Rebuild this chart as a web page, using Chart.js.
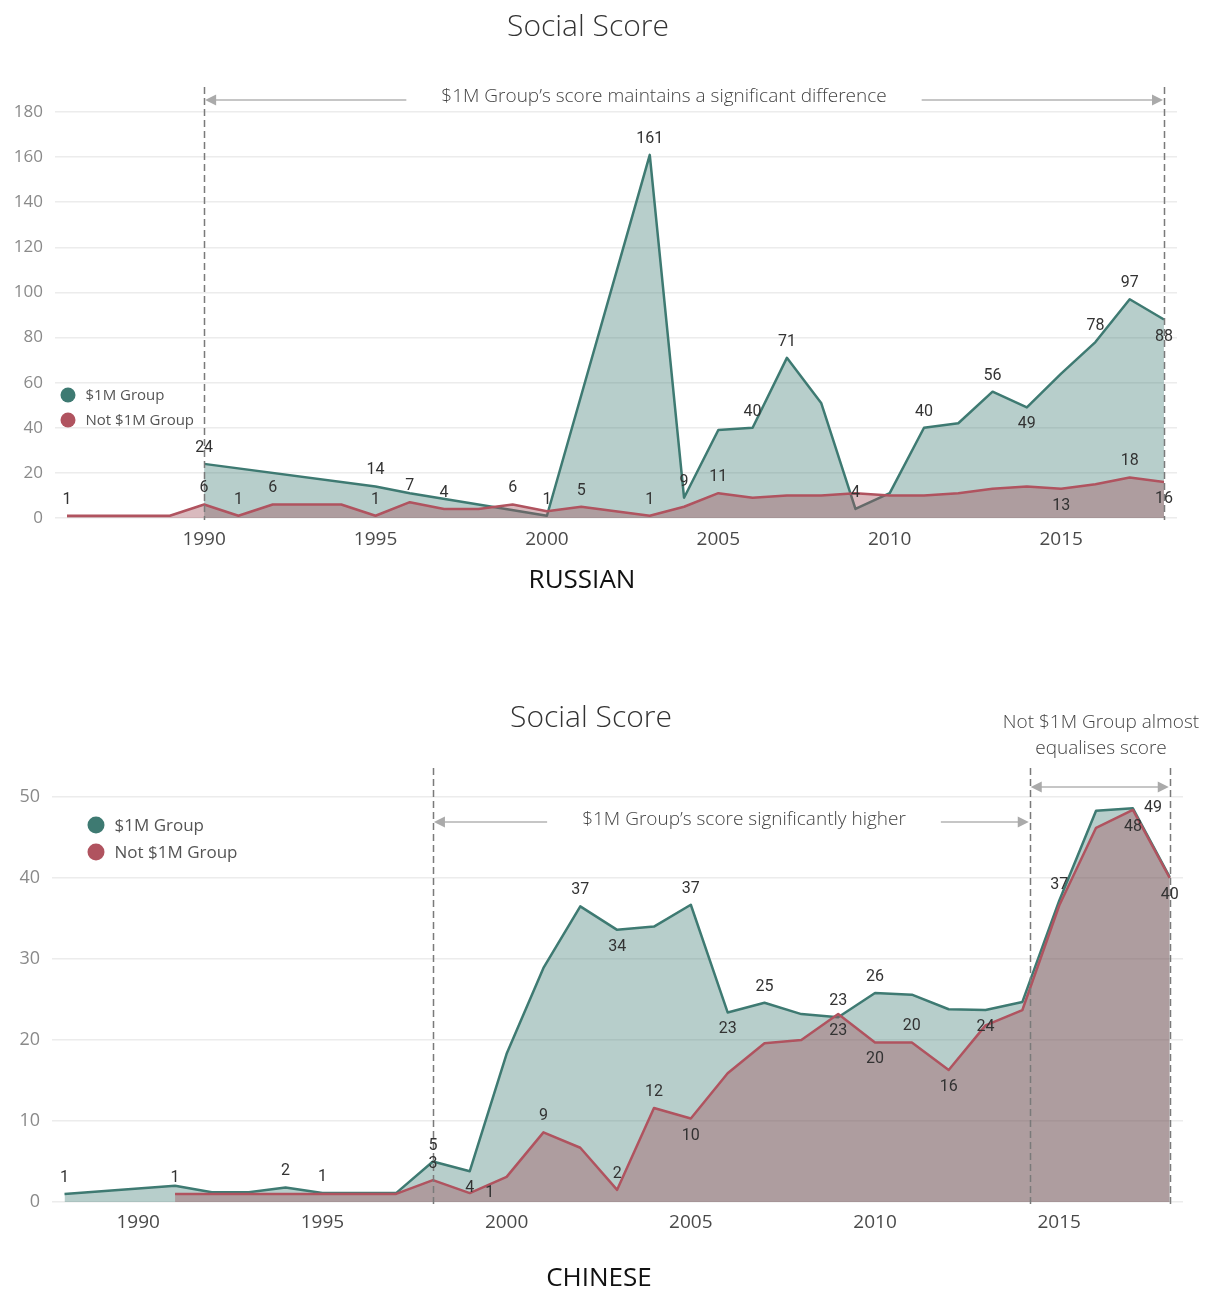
<!DOCTYPE html>
<html>
<head>
<meta charset="utf-8">
<title>Social Score</title>
<script src="https://cdn.jsdelivr.net/npm/chart.js@4/dist/chart.umd.min.js"></script>
<style>
  html, body { margin: 0; padding: 0; background: #fff; }
  #page { position: relative; width: 1208px; height: 1293px; overflow: hidden; }
  .panel { position: absolute; left: 0; width: 1208px; }
  #ruPanel { top: 0; height: 600px; }
  #cnPanel { top: 640px; height: 653px; }
</style>
</head>
<body>
<div id="page">
  <div class="panel" id="ruPanel"><canvas id="ruChart"></canvas></div>
  <div class="panel" id="cnPanel"><canvas id="cnChart"></canvas></div>
</div>
<script>
// ---- Russian-language cohort: yearly social score ----
const ruYears = [1986, 1987, 1988, 1989, 1990, 1991, 1992, 1993, 1994, 1995, 1996,
                 1997, 1998, 1999, 2000, 2001, 2002, 2003, 2004, 2005, 2006, 2007,
                 2008, 2009, 2010, 2011, 2012, 2013, 2014, 2015, 2016, 2017, 2018];
const ruMillion = [null, null, null, null, 24, null, null, null, null, 14, 11,
                   null, null, null, 1, null, null, 161, 9, 39, 40, 71,
                   51, 4, 11, 40, 42, 56, 49, 64, 78, 97, 88];
const ruNotMillion = [1, null, null, 1, 6, 1, 6, 6, 6, 1, 7,
                      4, 4, 6, 3, 5, 3, 1, 5, 11, 9, 10,
                      10, 11, 10, 10, 11, 13, 14, 13, 15, 18, 16];

// ---- Chinese-language cohort: yearly social score ----
const cnYears = [1988, 1989, 1990, 1991, 1992, 1993, 1994, 1995, 1996, 1997, 1998,
                 1999, 2000, 2001, 2002, 2003, 2004, 2005, 2006, 2007, 2008, 2009,
                 2010, 2011, 2012, 2013, 2014, 2015, 2016, 2017, 2018];
const cnMillion = [1, null, null, 2, 1.2, 1.2, 1.8, 1.1, 1.1, 1.1, 5,
                   3.8, 18.3, 28.9, 36.5, 33.6, 34, 36.7, 23.4, 24.6, 23.2, 22.8,
                   25.8, 25.6, 23.8, 23.7, 24.7, 37.2, 48.3, 48.6, 40.1];
const cnNotMillion = [null, null, null, 1, 1, 1, 1, 1, 1, 1, 2.7,
                      1.1, 3.1, 8.6, 6.7, 1.5, 11.6, 10.3, 15.9, 19.6, 20.0, 23.2,
                      19.7, 19.7, 16.3, 21.8, 23.7, 36.6, 46.2, 48.4, 40.0];

// Axis tick labels
const yearTicks = [1990, 1995, 2000, 2005, 2010, 2015];
const ruScoreTicks = [0, 20, 40, 60, 80, 100, 120, 140, 160, 180];
const cnScoreTicks = [0, 10, 20, 30, 40, 50];

// Series names
const seriesNames = ['$1M Group', 'Not $1M Group'];

// Which points carry a value label, and where it sits (a = above, b = below, r = right)
const ruMillionLabels = {1990:'a', 1995:'a', 2000:'a', 2003:'a', 2004:'a', 2006:'a', 2007:'a',
                         2009:'a', 2011:'a', 2013:'a', 2014:'b', 2016:'a', 2017:'a', 2018:'b'};
const ruNotLabels = {1986:'a', 1990:'a', 1991:'a', 1992:'a', 1995:'a', 1996:'a', 1997:'a',
                     1999:'a', 2001:'a', 2003:'a', 2005:'a', 2015:'b', 2017:'a', 2018:'b'};
const cnMillionLabels = {1988:'a', 1994:'a', 1995:'a', 1998:'a', 1999:'b', 2002:'a', 2003:'b',
                         2005:'a', 2006:'b', 2007:'a', 2009:'a', 2010:'a', 2013:'b', 2015:'a', 2017:'r'};
const cnNotLabels = {1991:'a', 1998:'a', 1999:'r', 2001:'a', 2003:'a', 2004:'a', 2005:'b',
                     2009:'b', 2010:'b', 2011:'a', 2012:'b', 2017:'b', 2018:'b'};

const TEAL = '#3e7a72';
const TEAL_FILL = 'rgba(61,122,114,0.37)';
const RED = '#b0535f';
const RED_FILL = 'rgba(160,82,92,0.40)';
const UI_FONT = '"Open Sans", "Noto Sans", sans-serif';
const NUM_FONT = 'Roboto, "DejaVu Sans", sans-serif';

function toPoints(years, values) {
  return years.map((yr, i) => ({ x: yr, y: values[i] }));
}

function drawArrowHead(ctx, x, y, dir) {
  ctx.beginPath();
  ctx.moveTo(x, y);
  ctx.lineTo(x - dir * 11, y - 5.5);
  ctx.lineTo(x - dir * 11, y + 5.5);
  ctx.closePath();
  ctx.fill();
}

// Titles, captions, legend, reference lines, notes and value labels
function decorations(cfg) {
  return {
    id: 'decorations',
    afterDraw(chart) {
      const ctx = chart.ctx;
      const xs = chart.scales.x;
      ctx.save();

      // Chart title
      ctx.fillStyle = '#333';
      ctx.font = '300 30px ' + UI_FONT;
      ctx.textAlign = 'center';
      ctx.textBaseline = 'middle';
      ctx.fillText(cfg.title, cfg.titleX, cfg.titleY);

      // Caption under the axis
      ctx.fillStyle = '#111';
      ctx.font = '400 26px ' + UI_FONT;
      ctx.fillText(cfg.caption, cfg.captionX, cfg.captionY);

      // Dashed reference lines
      ctx.strokeStyle = '#7a7a7a';
      ctx.lineWidth = 1.5;
      ctx.setLineDash([7, 4]);
      cfg.markers.forEach(v => {
        const px = Math.round(xs.getPixelForValue(v)) + 0.5;
        ctx.beginPath();
        ctx.moveTo(px, cfg.markTop);
        ctx.lineTo(px, cfg.markBottom);
        ctx.stroke();
      });
      ctx.setLineDash([]);

      // Notes with arrows
      cfg.notes.forEach(n => {
        const x0 = xs.getPixelForValue(n.from);
        const x1 = xs.getPixelForValue(n.to);
        ctx.font = '300 ' + n.size + 'px ' + UI_FONT;
        ctx.fillStyle = '#444';
        ctx.textAlign = 'center';
        ctx.textBaseline = 'middle';
        n.lines.forEach((t, k) => ctx.fillText(t, n.cx, n.cy + k * n.lineGap));
        ctx.strokeStyle = '#c6c6c6';
        ctx.lineWidth = 2;
        if (n.split) {
          const w = ctx.measureText(n.lines[0]).width;
          ctx.beginPath();
          ctx.moveTo(x0 + 4, n.ay); ctx.lineTo(n.cx - w / 2 - n.gap, n.ay);
          ctx.moveTo(n.cx + w / 2 + n.gap, n.ay); ctx.lineTo(x1 - 4, n.ay);
          ctx.stroke();
        } else {
          ctx.beginPath();
          ctx.moveTo(x0 + 4, n.ay); ctx.lineTo(x1 - 4, n.ay);
          ctx.stroke();
        }
        ctx.fillStyle = '#aaa';
        drawArrowHead(ctx, x0 + 1, n.ay, -1);
        drawArrowHead(ctx, x1 - 1, n.ay, 1);
      });

      // Legend
      ctx.textAlign = 'left';
      ctx.textBaseline = 'middle';
      ctx.font = '400 ' + cfg.legend.size + 'px ' + UI_FONT;
      chart.data.datasets.forEach((ds, i) => {
        const y = cfg.legend.y + i * cfg.legend.dy;
        ctx.fillStyle = ds.borderColor;
        ctx.beginPath();
        ctx.arc(cfg.legend.x, y, cfg.legend.r, 0, Math.PI * 2);
        ctx.fill();
        ctx.fillStyle = '#555';
        ctx.fillText(ds.label, cfg.legend.x + cfg.legend.r + 10, y + 1);
      });

      // Value labels
      ctx.font = '400 16px ' + NUM_FONT;
      ctx.fillStyle = '#333';
      ctx.textAlign = 'center';
      ctx.textBaseline = 'middle';
      chart.data.datasets.forEach((ds, i) => {
        const meta = chart.getDatasetMeta(i);
        ds.data.forEach((p, j) => {
          const where = ds.valueLabels[p.x];
          if (!where || p.y === null) return;
          const el = meta.data[j];
          let lx = el.x, ly = el.y;
          if (where === 'a') ly -= 16;
          else if (where === 'b') ly += 17;
          else lx += 20;
          ctx.fillText(String(Math.round(p.y)), lx, ly);
        });
      });

      ctx.restore();
    }
  };
}

function buildChart(id, cfg) {
  const datasets = [
    { label: seriesNames[0], data: toPoints(cfg.years, cfg.million), valueLabels: cfg.millionLabels,
      borderColor: TEAL, backgroundColor: TEAL_FILL, order: 2 },
    { label: seriesNames[1], data: toPoints(cfg.years, cfg.notMillion), valueLabels: cfg.notLabels,
      borderColor: RED, backgroundColor: RED_FILL, order: 1 }
  ].map(d => Object.assign(d, {
    fill: 'origin', borderWidth: 2.5, pointRadius: 0, pointHoverRadius: 0,
    tension: 0, spanGaps: true, borderJoinStyle: 'round'
  }));

  return new Chart(document.getElementById(id), {
    type: 'line',
    data: { datasets },
    options: {
      responsive: true,
      maintainAspectRatio: false,
      animation: false,
      devicePixelRatio: 1,
      layout: { padding: cfg.padding },
      plugins: { legend: { display: false }, tooltip: { enabled: false }, title: { display: false } },
      scales: {
        x: {
          type: 'linear',
          min: cfg.xMin, max: cfg.xMax,
          grid: { display: false },
          border: { display: false },
          ticks: { font: { family: UI_FONT, size: 19 }, color: '#4a4a4a', padding: cfg.xPad,
                   maxRotation: 0, callback: v => String(v) },
          afterBuildTicks: s => { s.ticks = yearTicks.map(v => ({ value: v })); },
          afterFit: s => { s.height = cfg.xHeight; }
        },
        y: {
          min: 0, max: cfg.yTicks[cfg.yTicks.length - 1],
          grid: { color: '#ececec', lineWidth: 1.5, drawTicks: false },
          border: { display: false },
          ticks: { font: { family: UI_FONT, size: cfg.yFont }, color: '#8a8a8a', padding: 12,
                   callback: v => String(v) },
          afterBuildTicks: s => { s.ticks = cfg.yTicks.map(v => ({ value: v })); },
          afterFit: s => { s.width = cfg.yWidth; }
        }
      }
    },
    plugins: [decorations(cfg.decor)]
  });
}

buildChart('ruChart', {
  years: ruYears, million: ruMillion, notMillion: ruNotMillion,
  millionLabels: ruMillionLabels, notLabels: ruNotLabels,
  xMin: 1985.65, xMax: 2018.38, yTicks: ruScoreTicks,
  padding: { top: 112, right: 31, left: 0, bottom: 0 },
  yWidth: 55, xHeight: 82, xPad: 2, yFont: 17,
  decor: {
    title: 'Social Score', titleX: 588, titleY: 27,
    caption: 'RUSSIAN', captionX: 582, captionY: 581,
    markers: [1990, 2018], markTop: 87, markBottom: 520,
    notes: [
      { lines: ['$1M Group\u2019s score maintains a significant difference'], cx: 664, cy: 97,
        size: 19, lineGap: 0, ay: 100, from: 1990, to: 2018, split: true, gap: 35 }
    ],
    legend: { x: 68, y: 395, dy: 25, r: 7.5, size: 15 }
  }
});

buildChart('cnChart', {
  years: cnYears, million: cnMillion, notMillion: cnNotMillion,
  millionLabels: cnMillionLabels, notLabels: cnNotLabels,
  xMin: 1987.66, xMax: 2018.36, yTicks: cnScoreTicks,
  padding: { top: 157, right: 25, left: 0, bottom: 0 },
  yWidth: 52, xHeight: 91, xPad: 1, yFont: 18,
  decor: {
    title: 'Social Score', titleX: 591, titleY: 78,
    caption: 'CHINESE', captionX: 599, captionY: 639,
    markers: [1998, 2014.2, 2018], markTop: 128, markBottom: 567,
    notes: [
      { lines: ['$1M Group\u2019s score significantly higher'], cx: 744, cy: 180,
        size: 19, lineGap: 0, ay: 182, from: 1998, to: 2014.2, split: true, gap: 35 },
      { lines: ['Not $1M Group almost', 'equalises score'], cx: 1101, cy: 83,
        size: 19, lineGap: 26, ay: 147, from: 2014.2, to: 2018, split: false, gap: 0 }
    ],
    legend: { x: 96, y: 825 - 640, dy: 27, r: 8.5, size: 17 }
  }
});
</script>
</body>
</html>
